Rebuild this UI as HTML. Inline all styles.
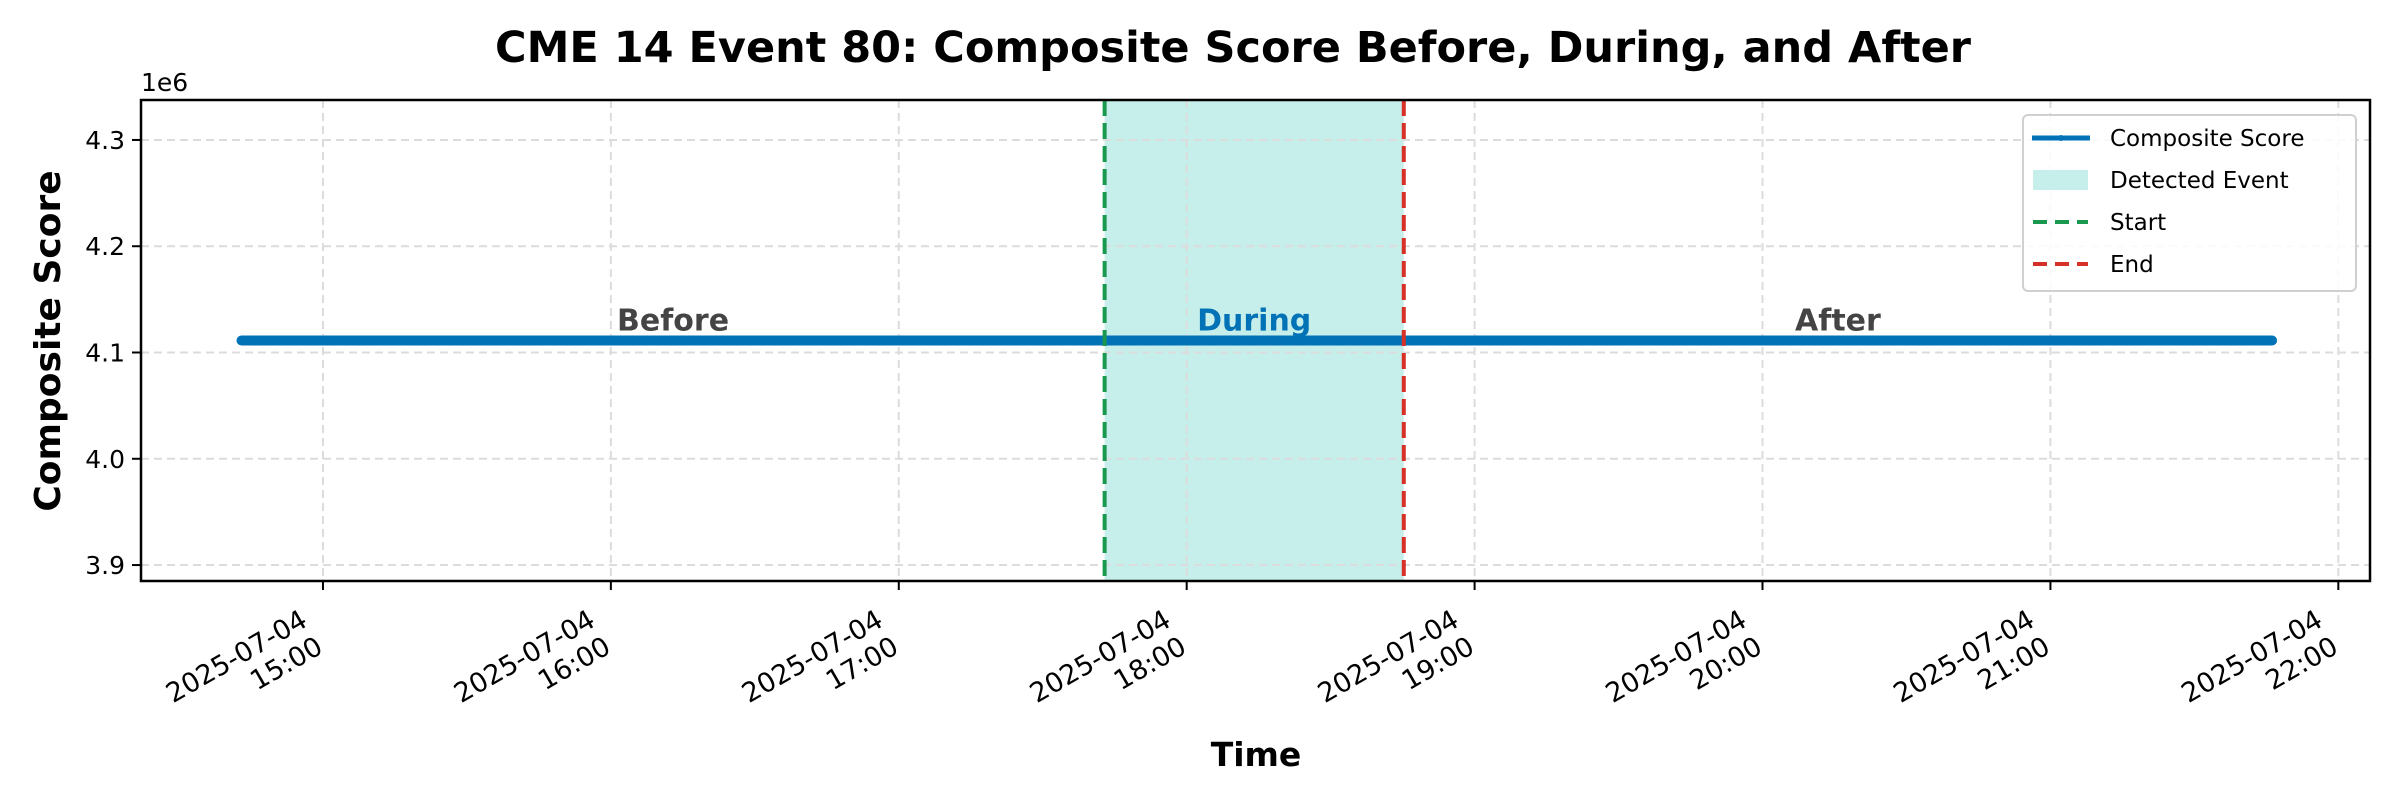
<!DOCTYPE html>
<html><head><meta charset="utf-8"><style>
html,body{margin:0;padding:0;background:#fff;}
svg{display:block;font-family:"DejaVu Sans","Liberation Sans",sans-serif;}
</style></head><body>
<svg id="chart" width="2400" height="800" viewBox="0 0 2400 800">
<text x="1233" y="62" text-anchor="middle" font-size="43" font-weight="bold">CME 14 Event 80: Composite Score Before, During, and After</text>
<g id="plot"></g>
</svg>
<script>
// data (hours since 15:00 on 2025-07-04)
const seriesStart = -0.283;   // 14:43
const seriesEnd = 6.77;       // 21:46
const stepMinutes = 5;
const scoreValue = 4111300;
const eventStart = 2.715;     // ~17:43
const eventEnd = 3.754;       // ~18:45
const xTickHours = [0,1,2,3,4,5,6,7];
const xTickDates = ["2025-07-04","2025-07-04","2025-07-04","2025-07-04","2025-07-04","2025-07-04","2025-07-04","2025-07-04"];
const xTickTimes = ["15:00","16:00","17:00","18:00","19:00","20:00","21:00","22:00"];
const yTicks = [3.9e6,4.0e6,4.1e6,4.2e6,4.3e6];
const yTickLabels = ["3.9","4.0","4.1","4.2","4.3"];

const L=141,R=2370,T=100,B=581;
const xMin=-0.632,xMax=7.11, yMin=3.885e6,yMax=4.3376e6;
const X=h=>L+(h-xMin)/(xMax-xMin)*(R-L);
const Y=v=>B-(v-yMin)/(yMax-yMin)*(B-T);
const NS="http://www.w3.org/2000/svg";
const g=document.getElementById('plot');
function mk(tag,attrs,parent){const e=document.createElementNS(NS,tag);for(const k in attrs)e.setAttribute(k,attrs[k]);(parent||g).appendChild(e);return e;}

let r=mk('rect',{x:X(eventStart),y:T,width:X(eventEnd)-X(eventStart),height:B-T,fill:'#c6efeb'});



xTickHours.forEach((h,i)=>{
  let l=mk('line',{x1:X(h),x2:X(h),y1:T,y2:B,stroke:'#dcdcdc','stroke-width':2,'stroke-dasharray':'8,5'});
  
  
});
yTicks.forEach((v,i)=>{
  let l=mk('line',{x1:L,x2:R,y1:Y(v),y2:Y(v),stroke:'#dcdcdc','stroke-width':2,'stroke-dasharray':'8,5'});
  
  
});

let pts=[];
for(let m=0;;m+=stepMinutes){let h=seriesStart+m/60;if(h>seriesEnd)h=seriesEnd;pts.push([h,scoreValue]);if(h>=seriesEnd)break;}
let p=mk('polyline',{points:pts.map(q=>X(q[0])+','+Y(q[1])).join(' '),fill:'none',stroke:'#0072b5','stroke-width':10,'stroke-linecap':'round','stroke-linejoin':'round'});



let s=mk('line',{x1:X(eventStart),x2:X(eventStart),y1:T,y2:B,stroke:'#1a9850','stroke-width':4,'stroke-dasharray':'16,7'});


let e=mk('line',{x1:X(eventEnd),x2:X(eventEnd),y1:T,y2:B,stroke:'#d73027','stroke-width':4,'stroke-dasharray':'16,7'});



const phases=[["Before",(seriesStart+eventStart)/2,'#444444','before-label'],["During",(eventStart+eventEnd)/2,'#0072b5','during-label'],["After",(eventEnd+seriesEnd)/2,'#444444','after-label']];
phases.forEach(ph=>{
  let t=mk('text',{x:X(ph[1]),y:Y(scoreValue)-10,'text-anchor':'middle','font-size':30,'font-weight':'bold',fill:ph[2]});
  t.textContent=ph[0];
  
  
});

let f=mk('rect',{x:L,y:T,width:R-L,height:B-T,fill:'none',stroke:'#000','stroke-width':2.5});



xTickHours.forEach((h,i)=>{
  let x=X(h);
  let tk=mk('line',{x1:x,x2:x,y1:B,y2:B+9,stroke:'#000','stroke-width':2});
  
  
  let t=mk('text',{transform:`translate(${x-14},625) rotate(-30)`,'text-anchor':'end','font-size':27});
  
  
  let a=mk('tspan',{x:0,y:0},t);a.textContent=xTickDates[i];
  let b=mk('tspan',{x:0,y:31},t);b.textContent=xTickTimes[i];
});
yTicks.forEach((v,i)=>{
  let y=Y(v);
  let tk=mk('line',{x1:L-9,x2:L,y1:y,y2:y,stroke:'#000','stroke-width':2});
  
  
  let t=mk('text',{x:L-16,y:y+9,'text-anchor':'end','font-size':25});
  t.textContent=yTickLabels[i];
  
  
});
let oe=mk('text',{x:L,y:91,'font-size':25});oe.textContent='1e6';



let xt=mk('text',{x:1256,y:766,'text-anchor':'middle','font-size':33,'font-weight':'bold'});xt.textContent='Time';


let yt=mk('text',{transform:`translate(60,341) rotate(-90)`,'text-anchor':'middle','font-size':36,'font-weight':'bold'});yt.textContent='Composite Score';



let lg=mk('g',{});


mk('rect',{x:2023,y:115,width:333,height:176,rx:5,fill:'#fff','fill-opacity':0.85,stroke:'#d0d0d0','stroke-width':2},lg);
const legendY=[138,180,222,264];
mk('line',{x1:2032,x2:2090,y1:legendY[0],y2:legendY[0],stroke:'#0072b5','stroke-width':5},lg);
mk('circle',{cx:2061,cy:legendY[0],r:3,fill:'#0072b5'},lg);
mk('rect',{x:2033,y:legendY[1]-10,width:55,height:20,fill:'#c6efeb'},lg);
mk('line',{x1:2033,x2:2088,y1:legendY[2],y2:legendY[2],stroke:'#1a9850','stroke-width':4,'stroke-dasharray':'14,8'},lg);
mk('line',{x1:2033,x2:2088,y1:legendY[3],y2:legendY[3],stroke:'#d73027','stroke-width':4,'stroke-dasharray':'14,8'},lg);
["Composite Score","Detected Event","Start","End"].forEach((s,i)=>{
  let t=mk('text',{x:2110,y:legendY[i]+8,'font-size':23},lg);t.textContent=s;
  
  
});
</script>
</body></html>
